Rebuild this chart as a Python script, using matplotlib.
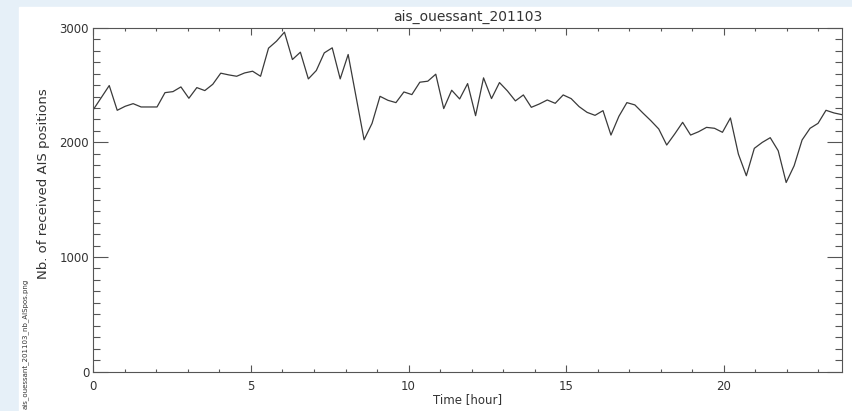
import numpy as np
import matplotlib
matplotlib.use("Agg")
import matplotlib.pyplot as plt
from matplotlib.patches import Rectangle
from matplotlib.ticker import MultipleLocator

# received AIS positions, 95 samples over the day
positions = [
    2286, 2391, 2496, 2280, 2315, 2338, 2309, 2309, 2309, 2434,
    2443, 2484, 2385, 2478, 2452, 2507, 2604, 2589, 2577, 2606,
    2621, 2577, 2822, 2883, 2962, 2723, 2787, 2554, 2627, 2781,
    2825, 2554, 2767, 2395, 2023, 2166, 2402, 2367, 2347, 2440,
    2417, 2525, 2534, 2595, 2295, 2455, 2379, 2513, 2233, 2563,
    2382, 2522, 2449, 2362, 2414, 2306, 2335, 2370, 2341, 2414,
    2382, 2312, 2262, 2236, 2277, 2064, 2228, 2347, 2327, 2257,
    2190, 2117, 1977, 2073, 2175, 2064, 2093, 2131, 2123, 2088,
    2213, 1898, 1709, 1948, 2000, 2041, 1927, 1650, 1796, 2021,
    2123, 2166, 2280, 2257, 2242,
]
hours = np.arange(len(positions)) * 24 / len(positions)

title = "ais_ouessant_201103"
fname = "ais_ouessant_201103_nb_AISpos.png"
ink = "#333333"

fig = plt.figure(figsize=(8.53, 4.11), dpi=100)
fig.patch.set_facecolor("#e6f0f8")
fig.patches.append(Rectangle((19 / 853, 0), 1, (411 - 7) / 411,
                             transform=fig.transFigure, color="white", zorder=-10))

ax = fig.add_axes([0.1094, 0.0959, 0.8777, 0.8365])
ax.set_facecolor("none")
ax.plot(hours, positions, color="#3a3a3a", lw=0.9)

ax.set_xlim(0, 23.75)
ax.set_ylim(0, 3000)
ax.xaxis.set_major_locator(MultipleLocator(5))
ax.xaxis.set_minor_locator(MultipleLocator(1))
ax.yaxis.set_major_locator(MultipleLocator(1000))
ax.yaxis.set_minor_locator(MultipleLocator(100))

for s in ax.spines.values():
    s.set_color("#555555")
    s.set_linewidth(0.8)
ax.tick_params(which="both", direction="in", top=True, right=True,
               color="#555555", labelcolor=ink, labelsize=8.5)
ax.tick_params(axis="x", which="major", length=5, width=0.8, pad=6)
ax.tick_params(axis="x", which="minor", length=2.5, width=0.8)
ax.tick_params(axis="y", which="major", length=10.5, width=0.8, pad=3)
ax.tick_params(axis="y", which="minor", length=5, width=0.8)

ax.set_title(title, fontsize=10, color=ink, pad=5)
ax.set_xlabel("Time [hour]", fontsize=8.5, color=ink, labelpad=0)
ax.set_ylabel("Nb. of received AIS positions", fontsize=9.5, color=ink)
ax.yaxis.set_label_coords(-0.058, 0.546)

fig.text(25 / 853, 2 / 411, fname, rotation=90, fontsize=5, color=ink,
         ha="center", va="bottom")

fig.savefig("out.png", dpi=100)
